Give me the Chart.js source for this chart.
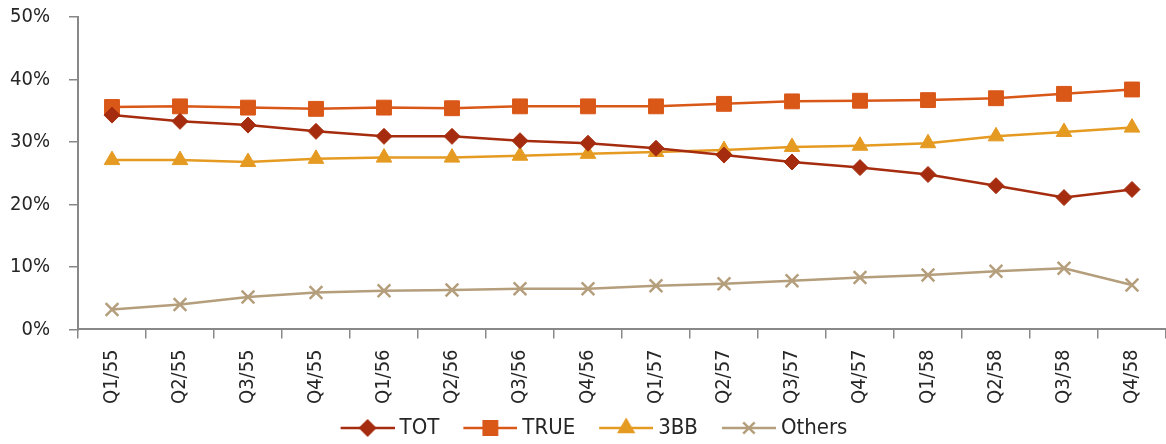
<!DOCTYPE html>
<html lang="en">
<head>
  <meta charset="UTF-8" />
  <title>Market share</title>
  <script src="https://cdn.jsdelivr.net/npm/chart.js"></script>
  <style>
    html, body { margin: 0; padding: 0; background: #fff; }
    #wrap { width: 1166px; height: 444px; }
  </style>
</head>
<body>
  <div id="wrap"><canvas id="shareChart"></canvas></div>

  <script>
    const quarters = ['Q1/55','Q2/55','Q3/55','Q4/55','Q1/56','Q2/56','Q3/56','Q4/56',
                      'Q1/57','Q2/57','Q3/57','Q4/57','Q1/58','Q2/58','Q3/58','Q4/58'];
    const tot    = [34.3, 33.3, 32.7, 31.7, 30.9, 30.9, 30.2, 29.8, 29.0, 27.9, 26.8, 25.9, 24.8, 23.0, 21.1, 22.4];
    const trueMove = [35.6, 35.7, 35.5, 35.3, 35.5, 35.4, 35.7, 35.7, 35.7, 36.1, 36.5, 36.6, 36.7, 37.0, 37.7, 38.4];
    const bb3    = [27.1, 27.1, 26.8, 27.3, 27.5, 27.5, 27.8, 28.1, 28.4, 28.7, 29.2, 29.4, 29.8, 30.9, 31.6, 32.3];
    const others = [3.2, 4.0, 5.2, 5.9, 6.2, 6.3, 6.5, 6.5, 7.0, 7.3, 7.8, 8.3, 8.7, 9.3, 9.8, 7.1];
    const yTicks = [0, 10, 20, 30, 40, 50];

    const FONT = "'DejaVu Sans Condensed', sans-serif";
    const TEXT = '#262626';

    // legend icon: line with the marker, drawn right-heavy so it sits close to its text
    const ICON_W = 82, ICON_H = 22, LINE_FROM = 28;
    function legendIcon(color, style, radius) {
      const c = document.createElement('canvas');
      c.width = ICON_W; c.height = ICON_H;
      const ctx = c.getContext('2d');
      ctx.strokeStyle = color;
      ctx.lineWidth = 2.5;
      ctx.beginPath();
      ctx.moveTo(LINE_FROM, ICON_H / 2); ctx.lineTo(ICON_W, ICON_H / 2);
      ctx.stroke();
      const mid = (LINE_FROM + ICON_W) / 2;
      Chart.helpers.drawPoint(ctx, {pointStyle: style, radius: radius, borderWidth: 2.5}, mid, ICON_H / 2);
      if (style !== 'crossRot') { ctx.fillStyle = color; ctx.fill(); }
      return c;
    }

    function series(label, data, color, style, radius) {
      return {
        label: label,
        data: data,
        borderColor: color,
        backgroundColor: color,
        borderWidth: 2.5,
        pointStyle: style,
        pointRadius: radius,
        pointHoverRadius: radius,
        pointBorderWidth: style === 'crossRot' ? 2.5 : 1,
        pointBorderColor: color,
        tension: 0,
        legendIcon: legendIcon(color, style, radius * 0.9)
      };
    }

    const ctx = document.getElementById('shareChart').getContext('2d');
    new Chart(ctx, {
      type: 'line',
      data: {
        labels: quarters,
        datasets: [
          series('TOT', tot, '#A52C0E', 'rectRot', 8),
          series('TRUE', trueMove, '#D95717', 'rect', 10.5),
          series('3BB', bb3, '#E59A22', 'triangle', 9),
          series('Others', others, '#B49E7C', 'crossRot', 9)
        ]
      },
      options: {
        responsive: true,
        maintainAspectRatio: false,
        animation: false,
        layout: { autoPadding: false, padding: { top: 17, right: 0, left: 0, bottom: -5 } },
        plugins: {
          tooltip: { enabled: false },
          legend: {
            position: 'bottom',
            labels: {
              usePointStyle: true,
              pointStyleWidth: 70,
              boxHeight: 20,
              color: TEXT,
              font: { family: FONT, size: 22 },
              padding: 2,
              generateLabels(chart) {
                return chart.data.datasets.map((ds, i) => ({
                  text: ds.label,
                  pointStyle: ds.legendIcon,
                  fillStyle: ds.borderColor,
                  strokeStyle: ds.borderColor,
                  lineWidth: 0,
                  fontColor: TEXT,
                  hidden: false,
                  datasetIndex: i
                }));
              }
            }
          }
        },
        scales: {
          x: {
            offset: true,
            afterFit(axis) { axis.paddingRight = 0; axis.paddingLeft = 0; },
            grid: { offset: true, drawOnChartArea: false, tickLength: 9, color: '#888', lineWidth: 1.5 },
            border: { color: '#888', width: 2 },
            ticks: {
              maxRotation: 90, minRotation: 90, autoSkip: false,
              color: TEXT, font: { family: FONT, size: 20 }, padding: 11
            }
          },
          y: {
            min: 0, max: 50,
            afterFit(axis) { axis.width = 78; axis.paddingTop = 0; axis.paddingBottom = 0; },
            afterBuildTicks(axis) { axis.ticks = yTicks.map(v => ({ value: v })); },
            grid: { drawOnChartArea: false, tickLength: 9, color: '#888', lineWidth: 1.5 },
            border: { color: '#888', width: 2 },
            ticks: {
              color: TEXT, font: { family: FONT, size: 20 }, padding: 19,
              callback: v => v + '%'
            }
          }
        }
      }
    });
  </script>
</body>
</html>
